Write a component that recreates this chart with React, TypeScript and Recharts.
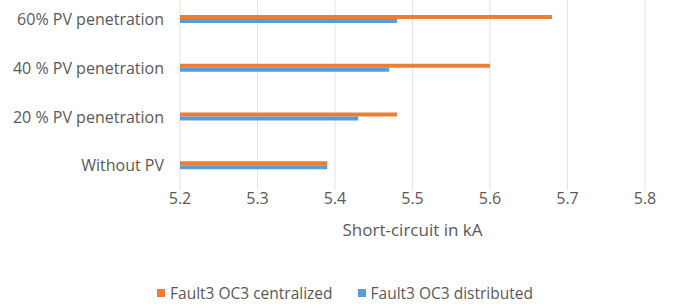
import { BarChart, Bar, XAxis, YAxis, CartesianGrid, Legend } from 'recharts';

const categories = ['60% PV penetration', '40 % PV penetration', '20 % PV penetration', 'Without PV'];
const centralized = [5.68, 5.6, 5.48, 5.39];
const distributed = [5.48, 5.47, 5.43, 5.39];
const xTicks = [5.2, 5.3, 5.4, 5.5, 5.6, 5.7, 5.8];

const chartData = categories.map((name, i) => ({
  name,
  centralized: centralized[i],
  distributed: distributed[i],
}));

const font = '"Open Sans", Lato, sans-serif';
const grey = '#595959';

// legend drawn by hand so the gap between the two entries can be set
function LegendContent({ payload }: any) {
  return (
    <div style={{ display: 'flex', justifyContent: 'center', gap: 25, fontFamily: font, fontSize: 15.5, color: grey, paddingLeft: 45, lineHeight: '20px' }}>
      {(payload || []).map((p: any) => (
        <div key={p.value} style={{ display: 'flex', alignItems: 'center' }}>
          <span style={{ width: 8, height: 8, background: p.color, display: 'inline-block', marginRight: 5 }} />
          <span>{p.value}</span>
        </div>
      ))}
    </div>
  );
}

export default function App() {
  return (
    <div style={{ position: 'absolute', left: 0, top: 0, width: 676, height: 308, background: '#fff', fontFamily: font }}>
      <BarChart
        width={676}
        height={308}
        data={chartData}
        layout="vertical"
        margin={{ top: -5, right: 31, bottom: 5, left: 0 }}
        barGap={0}
        barSize={4}
      >
        <CartesianGrid horizontal={false} stroke="#e3e3e3" />
        <XAxis
          type="number"
          domain={[5.2, 5.8]}
          ticks={xTicks}
          tickFormatter={(v: number) => v.toFixed(1)}
          axisLine={false}
          tickLine={false}
          tickSize={0}
          tickMargin={3}
          height={93}
          tick={{ fill: grey, fontSize: 16, fontFamily: font }}
          label={{ value: 'Short-circuit in kA', position: 'insideTop', offset: 34, fill: grey, fontSize: 17, fontFamily: font }}
        />
        <YAxis
          type="category"
          dataKey="name"
          width={180}
          axisLine={false}
          tickLine={false}
          tickSize={6}
          tickMargin={10}
          tick={{ fill: grey, fontSize: 16, fontFamily: font }}
        />
        <Legend verticalAlign="bottom" content={LegendContent} />
        <Bar dataKey="centralized" name="Fault3 OC3 centralized" fill="#ED7D31" isAnimationActive={false} />
        <Bar dataKey="distributed" name="Fault3 OC3 distributed" fill="#5B9BD5" isAnimationActive={false} />
      </BarChart>
    </div>
  );
}
